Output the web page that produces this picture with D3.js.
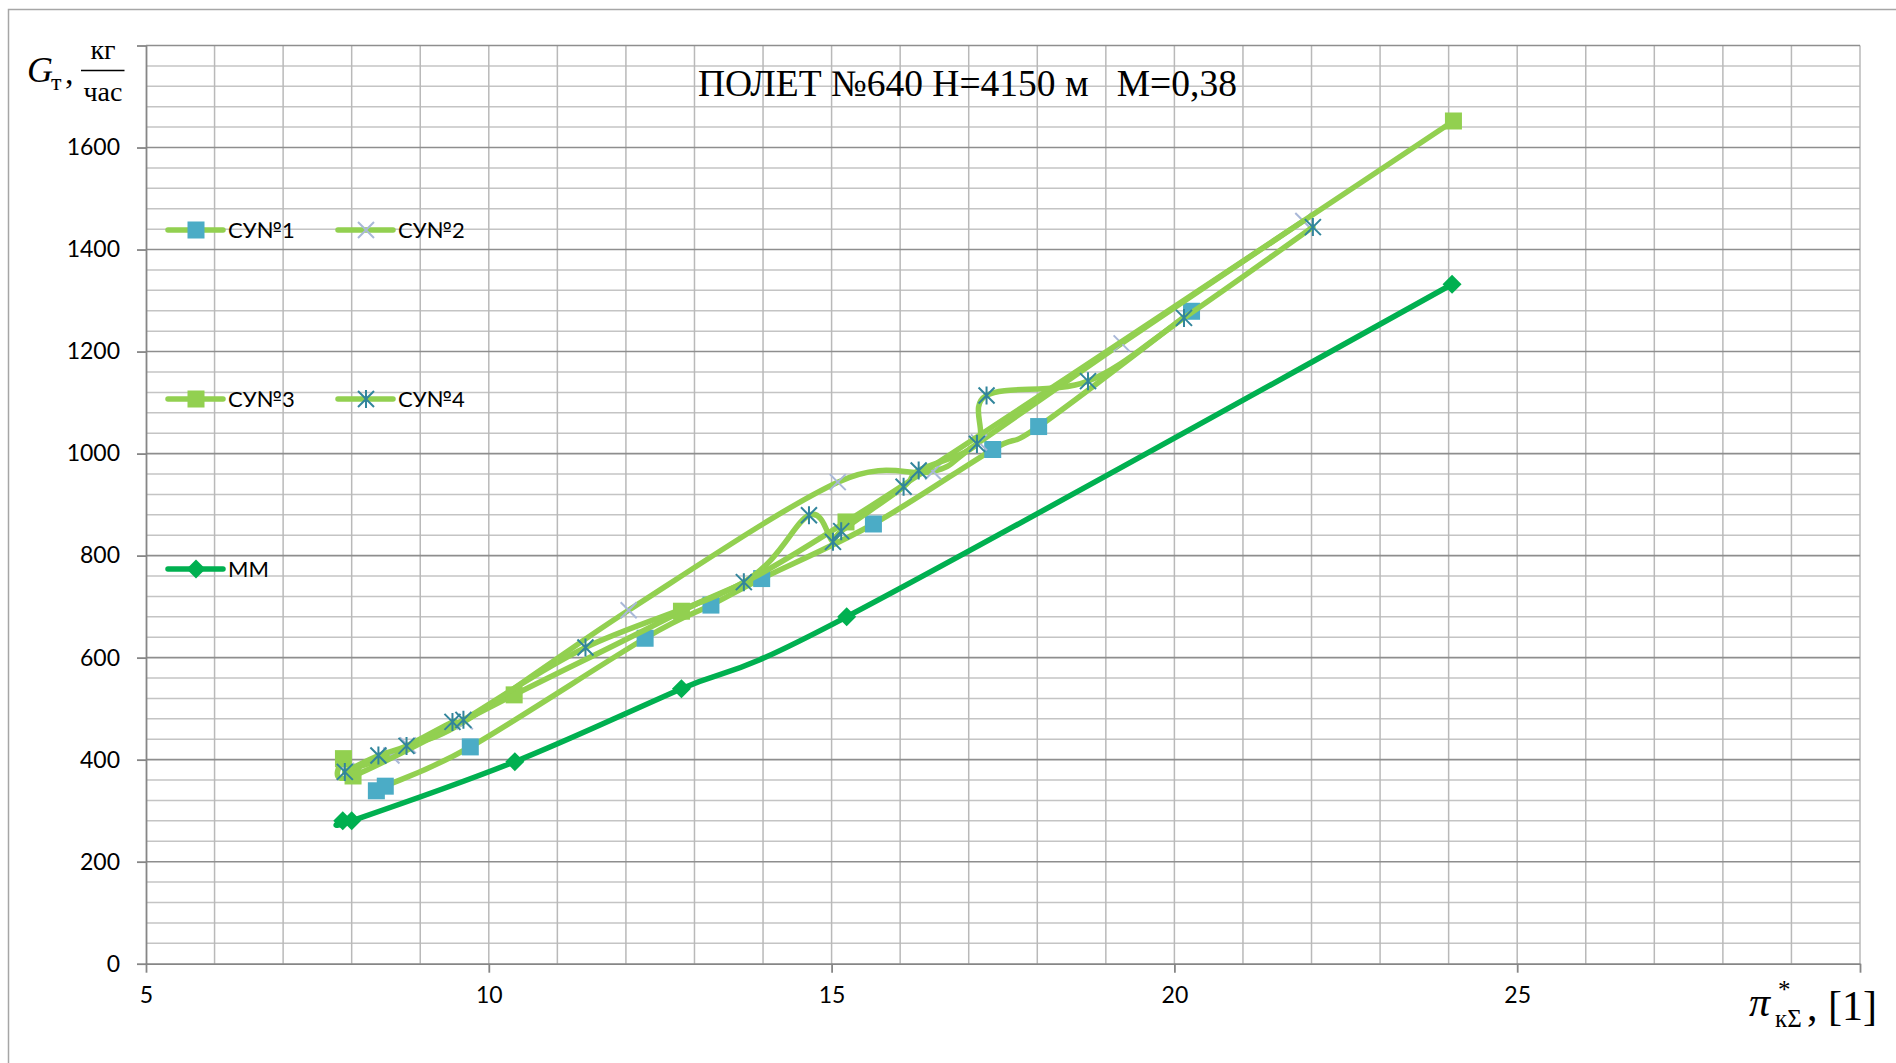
<!DOCTYPE html>
<html>
<head>
<meta charset="utf-8">
<script src="https://cdn.jsdelivr.net/npm/d3@7"></script>
<style>
  html, body { margin: 0; padding: 0; background: #ffffff; }
  svg { display: block; }
</style>
</head>
<body>
<svg id="chart" width="1896" height="1063"></svg>
<script>
// ---- data -------------------------------------------------------------
const titleText = "ПОЛЕТ №640 Н=4150 м   М=0,38";
const seriesNames = ["СУ№1", "СУ№2", "СУ№3", "СУ№4", "ММ"];

const su1X = [8.36, 8.49, 9.73, 12.28, 13.24, 13.98, 15.61, 17.35, 18.02, 20.25];
const su1Y = [339, 348, 425, 638, 703, 755, 862, 1008, 1053, 1279];

const su2X = [7.92, 8.58, 8.82, 9.65, 12.04, 15.09, 16.48, 17.15, 19.23, 21.88];
const su2Y = [378, 408, 428, 475, 693, 944, 965, 1022, 1216, 1456];

const su3X = [7.88, 8.02, 10.37, 12.81, 15.21, 24.07];
const su3Y = [402, 368, 527, 691, 866, 1652];

const su4X = [7.90, 8.39, 8.80, 9.47, 9.63, 11.41, 13.72, 14.67, 15.02, 15.14, 16.05, 16.27, 17.12, 17.26, 18.74, 20.14, 22.02];
const su4Y = [376, 408, 427, 474, 478, 620, 748, 879, 827, 848, 935, 967, 1019, 1114, 1142, 1266, 1444];

const mmX = [7.87, 8.00, 10.38, 12.81, 15.22, 24.05];
const mmY = [280, 280, 396, 539, 680, 1332];

const xTickValues = [5, 10, 15, 20, 25, 30];
const xTickLabels = ["5", "10", "15", "20", "25", ""];
const yTickValues = [0, 200, 400, 600, 800, 1000, 1200, 1400, 1600, 1800];
const yTickLabels = ["0", "200", "400", "600", "800", "1000", "1200", "1400", "1600", ""];

// ---- styles -----------------------------------------------------------
const lineGreen = "#92D050";
const mmGreen = "#00B050";
const series = [
  { name: seriesNames[0], xs: su1X, ys: su1Y, line: lineGreen, marker: "square", color: "#4BACC6" },
  { name: seriesNames[1], xs: su2X, ys: su2Y, line: lineGreen, marker: "cross", color: "#A9B8D8" },
  { name: seriesNames[2], xs: su3X, ys: su3Y, line: lineGreen, marker: "square", color: "#92D050" },
  { name: seriesNames[3], xs: su4X, ys: su4Y, line: lineGreen, marker: "star", color: "#31859C" },
  { name: seriesNames[4], xs: mmX, ys: mmY, line: mmGreen, marker: "diamond", color: "#00B050" }
];

const svg = d3.select("#chart");
const W = 1896, H = 1063;
const plot = { left: 146, right: 1860, top: 45.5, bottom: 963.7 };

const x = d3.scaleLinear().domain([5, 30]).range([plot.left, plot.right]);
const y = d3.scaleLinear().domain([0, 1800]).range([plot.bottom, plot.top]);

// chart frame
svg.append("rect").attr("x", 0).attr("y", 0).attr("width", W).attr("height", H).attr("fill", "#fff");
svg.append("rect")
  .attr("x", 8.5).attr("y", 9.5).attr("width", W + 20).attr("height", H + 20)
  .attr("fill", "none").attr("stroke", "#a6a6a6").attr("stroke-width", 1.5);

// ---- grid -------------------------------------------------------------
const grid = svg.append("g");
const minorY = d3.range(0, 1801, 40).filter(v => v % 200 !== 0);
grid.selectAll(".hminor").data(minorY).join("line")
  .attr("x1", plot.left).attr("x2", plot.right)
  .attr("y1", d => y(d)).attr("y2", d => y(d))
  .attr("stroke", "#c4c4c4").attr("stroke-width", 1.5);
grid.selectAll(".vminor").data(d3.range(6, 31, 1)).join("line")
  .attr("x1", d => x(d)).attr("x2", d => x(d))
  .attr("y1", plot.top).attr("y2", plot.bottom)
  .attr("stroke", "#b9b9b9").attr("stroke-width", 1.5);
grid.selectAll(".hmajor").data(yTickValues.filter(v => v > 0)).join("line")
  .attr("x1", plot.left).attr("x2", plot.right)
  .attr("y1", d => y(d)).attr("y2", d => y(d))
  .attr("stroke", "#8e8e8e").attr("stroke-width", 1.6);

// ---- axes -------------------------------------------------------------
const tickFont = "Lato, 'Open Sans', sans-serif";
const xAxis = d3.axisBottom(x).tickValues(xTickValues)
  .tickFormat((d, i) => xTickLabels[i]).tickSizeInner(9).tickSizeOuter(0).tickPadding(14);
const gx = svg.append("g").attr("transform", `translate(0,${plot.bottom})`).call(xAxis);
gx.select(".domain").attr("stroke", "#868686").attr("stroke-width", 1.8);
gx.selectAll(".tick line").attr("stroke", "#868686").attr("stroke-width", 1.8);
gx.selectAll(".tick text").attr("font-family", tickFont).attr("font-size", 23).attr("fill", "#000");

const yAxis = d3.axisLeft(y).tickValues(yTickValues)
  .tickFormat((d, i) => yTickLabels[i]).tickSizeInner(9).tickSizeOuter(0).tickPadding(17);
const gy = svg.append("g").attr("transform", `translate(${plot.left},0)`).call(yAxis);
gy.select(".domain").attr("stroke", "#868686").attr("stroke-width", 1.8);
gy.selectAll(".tick line").attr("stroke", "#868686").attr("stroke-width", 1.8);
gy.selectAll(".tick text").attr("font-family", tickFont).attr("font-size", 23).attr("fill", "#000");

// ---- markers ----------------------------------------------------------
function drawMarker(g, kind, color, cx, cy) {
  if (kind === "square") {
    g.append("rect").attr("x", cx - 8.5).attr("y", cy - 8.5).attr("width", 17).attr("height", 17)
      .attr("fill", color);
  } else if (kind === "diamond") {
    const r = 9.5;
    g.append("path").attr("d", `M${cx},${cy - r}L${cx + r},${cy}L${cx},${cy + r}L${cx - r},${cy}Z`)
      .attr("fill", color);
  } else if (kind === "cross" || kind === "star") {
    const r = 8;
    g.append("path")
      .attr("d", `M${cx - r},${cy - r}L${cx + r},${cy + r}M${cx - r},${cy + r}L${cx + r},${cy - r}` +
        (kind === "star" ? `M${cx},${cy - r - 1}L${cx},${cy + r + 1}` : ""))
      .attr("stroke", color).attr("stroke-width", 2).attr("fill", "none");
  }
}

// ---- series -----------------------------------------------------------
const lineGen = d3.line().x(d => x(d[0])).y(d => y(d[1])).curve(d3.curveCardinal.tension(0));
const plotG = svg.append("g");
series.forEach(s => {
  const pts = s.xs.map((v, i) => [v, s.ys[i]]);
  const g = plotG.append("g");
  g.append("path").datum(pts).attr("d", lineGen)
    .attr("fill", "none").attr("stroke", s.line).attr("stroke-width", 5.5)
    .attr("stroke-linejoin", "round").attr("stroke-linecap", "round");
  pts.forEach(p => drawMarker(g, s.marker, s.color, x(p[0]), y(p[1])));
});

// ---- legend -----------------------------------------------------------
const legendPos = [
  { lx: 168, ly: 230 }, { lx: 338, ly: 230 },
  { lx: 168, ly: 399 }, { lx: 338, ly: 399 },
  { lx: 168, ly: 569 }
];
const lg = svg.append("g");
series.forEach((s, i) => {
  const p = legendPos[i];
  lg.append("line").attr("x1", p.lx).attr("x2", p.lx + 55).attr("y1", p.ly).attr("y2", p.ly)
    .attr("stroke", s.line).attr("stroke-width", 5.5).attr("stroke-linecap", "round");
  drawMarker(lg, s.marker, s.color, p.lx + 28, p.ly);
  lg.append("text").attr("x", p.lx + 60).attr("y", p.ly + 8)
    .attr("font-family", tickFont).attr("font-size", 22).attr("fill", "#000").text(s.name);
});

// ---- title ------------------------------------------------------------
svg.append("text").attr("x", 698).attr("y", 96)
  .attr("font-family", "'Liberation Serif', 'Times New Roman', serif")
  .attr("font-size", 37.5).attr("fill", "#000").attr("xml:space", "preserve")
  .style("white-space", "pre").text(titleText);

// ---- y axis title: G_т, кг/час ----------------------------------------
const serif = "'Liberation Serif', 'DejaVu Serif', serif";
const yt = svg.append("g");
const gLabel = yt.append("text").attr("font-family", serif).attr("fill", "#000");
gLabel.append("tspan").attr("x", 27).attr("y", 82).attr("font-style", "italic").attr("font-size", 36).text("G");
gLabel.append("tspan").attr("x", 51).attr("y", 90).attr("font-size", 24).text("т");
gLabel.append("tspan").attr("x", 65).attr("y", 84).attr("font-size", 34).text(",");
const frac = yt.append("text").attr("font-family", serif).attr("fill", "#000")
  .attr("text-anchor", "middle").attr("font-size", 28);
frac.append("tspan").attr("x", 103).attr("y", 59).text("кг");
frac.append("tspan").attr("x", 103).attr("y", 101).text("час");
yt.append("line").attr("x1", 81).attr("x2", 124.5).attr("y1", 70.5).attr("y2", 70.5)
  .attr("stroke", "#000").attr("stroke-width", 1.6);

// ---- x axis title: π*_кΣ, [1] -----------------------------------------
const xt = svg.append("text").attr("font-family", serif).attr("fill", "#000");
xt.append("tspan").attr("x", 1749).attr("y", 1016).attr("font-style", "italic").attr("font-size", 42).text("π");
xt.append("tspan").attr("x", 1778).attr("y", 998).attr("font-size", 25).text("*");
xt.append("tspan").attr("x", 1775).attr("y", 1027).attr("font-size", 25).text("кΣ");
xt.append("tspan").attr("x", 1807).attr("y", 1020).attr("font-size", 42).text(", [1]");
</script>
</body>
</html>
